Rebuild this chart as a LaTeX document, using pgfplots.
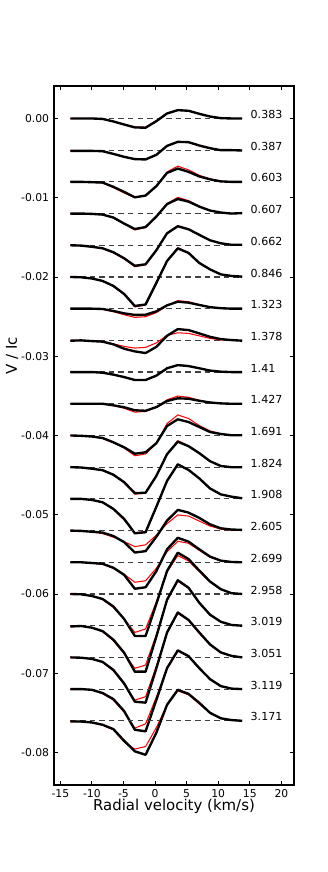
\documentclass[border=0pt]{standalone}
\usepackage{fontspec}
\setmainfont{DejaVu Sans}
\usepackage{pgfplots}
\usepackage{pgfplotstable}
\pgfplotsset{compat=1.18}

% one table per phase: velocity, observed (b) and model (r), offset included
\pgfplotstableread{
v b r
-13.4 0 0
-11.7 0 0
-10.0 0 0
-8.3 -0.00006 -0.00006
-6.6 -0.00038 -0.00038
-4.9 -0.00076 -0.00076
-3.2 -0.00113 -0.00107
-1.5 -0.00117 -0.00110
0.2 -0.00034 -0.00032
1.9 0.00063 0.00067
3.6 0.00105 0.00105
5.3 0.00097 0.00095
7.0 0.00059 0.00057
8.7 0.00025 0.00023
10.4 0.00004 0.00004
12.1 0 0
13.8 0 0
}\tA
\pgfplotstableread{
v b r
-13.4 -0.00409 -0.00406
-11.7 -0.00409 -0.00406
-10.0 -0.00409 -0.00406
-8.3 -0.00413 -0.00413
-6.6 -0.00447 -0.00447
-4.9 -0.00484 -0.00482
-3.2 -0.00513 -0.00510
-1.5 -0.00517 -0.00513
0.2 -0.00459 -0.00457
1.9 -0.00346 -0.00343
3.6 -0.00295 -0.00295
5.3 -0.00299 -0.00303
7.0 -0.00341 -0.00346
8.7 -0.00375 -0.00379
10.4 -0.00400 -0.00400
12.1 -0.00400 -0.00400
13.8 -0.00404 -0.00404
}\tB
\pgfplotstableread{
v b r
-13.4 -0.00800 -0.00800
-11.7 -0.00800 -0.00800
-10.0 -0.00804 -0.00804
-8.3 -0.00809 -0.00813
-6.6 -0.00863 -0.00872
-4.9 -0.00926 -0.00939
-3.2 -0.00995 -0.00999
-1.5 -0.00973 -0.00970
0.2 -0.00854 -0.00850
1.9 -0.00687 -0.00674
3.6 -0.00632 -0.00602
5.3 -0.00674 -0.00649
7.0 -0.00731 -0.00718
8.7 -0.00768 -0.00762
10.4 -0.00794 -0.00790
12.1 -0.00800 -0.00800
13.8 -0.00800 -0.00800
}\tC
\pgfplotstableread{
v b r
-13.4 -0.01200 -0.01200
-11.7 -0.01200 -0.01200
-10.0 -0.01204 -0.01204
-8.3 -0.01213 -0.01213
-6.6 -0.01250 -0.01254
-4.9 -0.01326 -0.01332
-3.2 -0.01395 -0.01406
-1.5 -0.01370 -0.01377
0.2 -0.01238 -0.01238
1.9 -0.01080 -0.01074
3.6 -0.01017 -0.00996
5.3 -0.01049 -0.01036
7.0 -0.01112 -0.01105
8.7 -0.01162 -0.01158
10.4 -0.01187 -0.01187
12.1 -0.01200 -0.01200
13.8 -0.01194 -0.01194
}\tD
\pgfplotstableread{
v b r
-13.4 -0.01600 -0.01600
-11.7 -0.01604 -0.01604
-10.0 -0.01619 -0.01619
-8.3 -0.01638 -0.01642
-6.6 -0.01688 -0.01695
-4.9 -0.01764 -0.01770
-3.2 -0.01859 -0.01871
-1.5 -0.01840 -0.01846
0.2 -0.01663 -0.01669
1.9 -0.01449 -0.01442
3.6 -0.01360 -0.01354
5.3 -0.01398 -0.01394
7.0 -0.01468 -0.01468
8.7 -0.01537 -0.01537
10.4 -0.01575 -0.01575
12.1 -0.01594 -0.01594
13.8 -0.01594 -0.01594
}\tE
\pgfplotstableread{
v b r
-13.4 -0.02000 -0.02000
-11.7 -0.02004 -0.02004
-10.0 -0.02019 -0.02019
-8.3 -0.02050 -0.02054
-6.6 -0.02113 -0.02120
-4.9 -0.02214 -0.02221
-3.2 -0.02366 -0.02378
-1.5 -0.02347 -0.02353
0.2 -0.02076 -0.02082
1.9 -0.01798 -0.01798
3.6 -0.01639 -0.01631
5.3 -0.01697 -0.01691
7.0 -0.01823 -0.01817
8.7 -0.01904 -0.01905
10.4 -0.01967 -0.01967
12.1 -0.01987 -0.01987
13.8 -0.01996 -0.01996
}\tF
\pgfplotstableread{
v b r
-13.4 -0.02400 -0.02400
-11.7 -0.02400 -0.02400
-10.0 -0.02400 -0.02400
-8.3 -0.02404 -0.02406
-6.6 -0.02429 -0.02438
-4.9 -0.02459 -0.02476
-3.2 -0.02479 -0.02510
-1.5 -0.02476 -0.02501
0.2 -0.02434 -0.02450
1.9 -0.02358 -0.02362
3.6 -0.02312 -0.02299
5.3 -0.02324 -0.02312
7.0 -0.02353 -0.02350
8.7 -0.02381 -0.02379
10.4 -0.02394 -0.02394
12.1 -0.02400 -0.02400
13.8 -0.02400 -0.02400
}\tG
\pgfplotstableread{
v b r
-13.4 -0.02804 -0.02804
-11.7 -0.02800 -0.02800
-10.0 -0.02809 -0.02806
-8.3 -0.02816 -0.02813
-6.6 -0.02850 -0.02844
-4.9 -0.02905 -0.02876
-3.2 -0.02939 -0.02897
-1.5 -0.02960 -0.02888
0.2 -0.02882 -0.02832
1.9 -0.02742 -0.02737
3.6 -0.02658 -0.02704
5.3 -0.02670 -0.02712
7.0 -0.02712 -0.02743
8.7 -0.02755 -0.02775
10.4 -0.02784 -0.02794
12.1 -0.02796 -0.02800
13.8 -0.02804 -0.02804
}\tH
\pgfplotstableread{
v b r
-13.4 -0.03200 -0.03200
-11.7 -0.03200 -0.03200
-10.0 -0.03200 -0.03200
-8.3 -0.03208 -0.03208
-6.6 -0.03232 -0.03232
-4.9 -0.03263 -0.03263
-3.2 -0.03300 -0.03297
-1.5 -0.03300 -0.03297
0.2 -0.03245 -0.03242
1.9 -0.03152 -0.03150
3.6 -0.03112 -0.03109
5.3 -0.03124 -0.03122
7.0 -0.03152 -0.03152
8.7 -0.03181 -0.03181
10.4 -0.03195 -0.03195
12.1 -0.03200 -0.03200
13.8 -0.03200 -0.03200
}\tI
\pgfplotstableread{
v b r
-13.4 -0.03600 -0.03600
-11.7 -0.03600 -0.03600
-10.0 -0.03600 -0.03600
-8.3 -0.03600 -0.03600
-6.6 -0.03619 -0.03623
-4.9 -0.03644 -0.03657
-3.2 -0.03682 -0.03705
-1.5 -0.03688 -0.03697
0.2 -0.03642 -0.03644
1.9 -0.03565 -0.03550
3.6 -0.03531 -0.03502
5.3 -0.03536 -0.03518
7.0 -0.03562 -0.03556
8.7 -0.03584 -0.03581
10.4 -0.03595 -0.03595
12.1 -0.03600 -0.03600
13.8 -0.03600 -0.03600
}\tJ
\pgfplotstableread{
v b r
-13.4 -0.04000 -0.04000
-11.7 -0.04004 -0.04004
-10.0 -0.04013 -0.04013
-8.3 -0.04032 -0.04038
-6.6 -0.04086 -0.04092
-4.9 -0.04149 -0.04158
-3.2 -0.04230 -0.04256
-1.5 -0.04212 -0.04233
0.2 -0.04098 -0.04101
1.9 -0.03880 -0.03849
3.6 -0.03796 -0.03741
5.3 -0.03830 -0.03786
7.0 -0.03893 -0.03874
8.7 -0.03956 -0.03943
10.4 -0.03981 -0.03977
12.1 -0.03997 -0.03997
13.8 -0.03997 -0.03997
}\tK
\pgfplotstableread{
v b r
-13.4 -0.04400 -0.04400
-11.7 -0.04404 -0.04404
-10.0 -0.04419 -0.04419
-8.3 -0.04438 -0.04442
-6.6 -0.04495 -0.04501
-4.9 -0.04589 -0.04595
-3.2 -0.04728 -0.04740
-1.5 -0.04722 -0.04728
0.2 -0.04511 -0.04513
1.9 -0.04236 -0.04230
3.6 -0.04078 -0.04066
5.3 -0.04135 -0.04129
7.0 -0.04223 -0.04217
8.7 -0.04324 -0.04324
10.4 -0.04385 -0.04381
12.1 -0.04400 -0.04400
13.8 -0.04400 -0.04400
}\tL
\pgfplotstableread{
v b r
-13.4 -0.04800 -0.04800
-11.7 -0.04800 -0.04800
-10.0 -0.04813 -0.04813
-8.3 -0.04843 -0.04847
-6.6 -0.04926 -0.04932
-4.9 -0.05052 -0.05065
-3.2 -0.05234 -0.05229
-1.5 -0.05221 -0.05210
0.2 -0.04901 -0.04901
1.9 -0.04573 -0.04567
3.6 -0.04365 -0.04359
5.3 -0.04434 -0.04434
7.0 -0.04541 -0.04548
8.7 -0.04668 -0.04668
10.4 -0.04743 -0.04743
12.1 -0.04772 -0.04775
13.8 -0.04792 -0.04792
}\tM
\pgfplotstableread{
v b r
-13.4 -0.05200 -0.05200
-11.7 -0.05204 -0.05204
-10.0 -0.05215 -0.05215
-8.3 -0.05225 -0.05238
-6.6 -0.05269 -0.05282
-4.9 -0.05345 -0.05339
-3.2 -0.05477 -0.05402
-1.5 -0.05459 -0.05380
0.2 -0.05279 -0.05257
1.9 -0.05074 -0.05112
3.6 -0.04939 -0.05002
5.3 -0.04973 -0.05017
7.0 -0.05040 -0.05080
8.7 -0.05121 -0.05143
10.4 -0.05171 -0.05181
12.1 -0.05187 -0.05196
13.8 -0.05191 -0.05196
}\tN
\pgfplotstableread{
v b r
-13.4 -0.05600 -0.05600
-11.7 -0.05600 -0.05600
-10.0 -0.05609 -0.05609
-8.3 -0.05619 -0.05625
-6.6 -0.05669 -0.05676
-4.9 -0.05758 -0.05751
-3.2 -0.05934 -0.05852
-1.5 -0.05915 -0.05833
0.2 -0.05713 -0.05676
1.9 -0.05436 -0.05468
3.6 -0.05291 -0.05335
5.3 -0.05339 -0.05360
7.0 -0.05436 -0.05449
8.7 -0.05528 -0.05537
10.4 -0.05579 -0.05581
12.1 -0.05596 -0.05596
13.8 -0.05600 -0.05600
}\tO
\pgfplotstableread{
v b r
-13.4 -0.06000 -0.06000
-11.7 -0.06004 -0.06004
-10.0 -0.06025 -0.06025
-8.3 -0.06063 -0.06069
-6.6 -0.06158 -0.06170
-4.9 -0.06315 -0.06315
-3.2 -0.06530 -0.06485
-1.5 -0.06530 -0.06441
0.2 -0.06126 -0.06101
1.9 -0.05710 -0.05723
3.6 -0.05479 -0.05515
5.3 -0.05559 -0.05584
7.0 -0.05704 -0.05716
8.7 -0.05842 -0.05849
10.4 -0.05939 -0.05943
12.1 -0.05990 -0.05990
13.8 -0.06000 -0.06000
}\tP
\pgfplotstableread{
v b r
-13.4 -0.06410 -0.06410
-11.7 -0.06404 -0.06404
-10.0 -0.06425 -0.06425
-8.3 -0.06469 -0.06476
-6.6 -0.06577 -0.06589
-4.9 -0.06740 -0.06753
-3.2 -0.06980 -0.06938
-1.5 -0.06980 -0.06896
0.2 -0.06539 -0.06513
1.9 -0.06072 -0.06085
3.6 -0.05826 -0.05839
5.3 -0.05921 -0.05927
7.0 -0.06110 -0.06116
8.7 -0.06261 -0.06261
10.4 -0.06350 -0.06350
12.1 -0.06391 -0.06391
13.8 -0.06400 -0.06400
}\tQ
\pgfplotstableread{
v b r
-13.4 -0.06800 -0.06800
-11.7 -0.06804 -0.06804
-10.0 -0.06819 -0.06819
-8.3 -0.06857 -0.06863
-6.6 -0.06958 -0.06970
-4.9 -0.07128 -0.07140
-3.2 -0.07359 -0.07338
-1.5 -0.07371 -0.07296
0.2 -0.06939 -0.06913
1.9 -0.06485 -0.06497
3.6 -0.06233 -0.06245
5.3 -0.06327 -0.06333
7.0 -0.06485 -0.06497
8.7 -0.06636 -0.06642
10.4 -0.06737 -0.06743
12.1 -0.06781 -0.06781
13.8 -0.06800 -0.06800
}\tR
\pgfplotstableread{
v b r
-13.4 -0.07200 -0.07200
-11.7 -0.07200 -0.07200
-10.0 -0.07209 -0.07209
-8.3 -0.07250 -0.07257
-6.6 -0.07326 -0.07339
-4.9 -0.07477 -0.07490
-3.2 -0.07713 -0.07692
-1.5 -0.07733 -0.07638
0.2 -0.07339 -0.07301
1.9 -0.06935 -0.06948
3.6 -0.06711 -0.06721
5.3 -0.06784 -0.06790
7.0 -0.06935 -0.06941
8.7 -0.07074 -0.07080
10.4 -0.07162 -0.07162
12.1 -0.07194 -0.07194
13.8 -0.07200 -0.07200
}\tS
\pgfplotstableread{
v b r
-13.4 -0.07609 -0.07609
-11.7 -0.07609 -0.07609
-10.0 -0.07621 -0.07621
-8.3 -0.07650 -0.07657
-6.6 -0.07705 -0.07713
-4.9 -0.07852 -0.07865
-3.2 -0.07985 -0.07957
-1.5 -0.08029 -0.07924
0.2 -0.07751 -0.07688
1.9 -0.07398 -0.07398
3.6 -0.07209 -0.07222
5.3 -0.07260 -0.07272
7.0 -0.07373 -0.07386
8.7 -0.07499 -0.07499
10.4 -0.07568 -0.07568
12.1 -0.07591 -0.07591
13.8 -0.07600 -0.07600
}\tT

% zero line, model, observation and phase label of one profile
\newcommand{\prof}[4]{%
  \addplot[black!75, line width=0.85bp, dash pattern=on 4bp off 2.9bp]
    coordinates {(-13.4,#2) (13.8,#2)};
  \addplot[red, line width=0.75bp] table[x=v, y=r] {#1};
  \addplot[black, line width=1.7bp, line join=round] table[x=v, y=b] {#1};
  \node[anchor=west, inner sep=0pt, font=\fontsize{8}{9}\selectfont]
    at (axis cs:15.1,#3) {#4};
}

\begin{document}
\begin{tikzpicture}
\path[use as bounding box] (-38.88bp,-62.64bp) rectangle (196.56bp,565.2bp);
\begin{axis}[
    at={(0,0)}, anchor=south west,
    scale only axis,
    width=172.8bp, height=503.3bp,
    xmin=-16, xmax=22,
    ymin=-0.0841, ymax=0.0041,
    xtick={-15,-10,...,20},
    ytick={0,-0.01,-0.02,-0.03,-0.04,-0.05,-0.06,-0.07,-0.08},
    scaled y ticks=false,
    yticklabel style={/pgf/number format/.cd, fixed, fixed zerofill, precision=2},
    /pgf/number format/assume math mode=true,
    tick label style={font=\fontsize{7.8}{9}\selectfont},
    tick align=inside,
    major tick length=3bp,
    axis line style={line width=0.8bp},
    every tick/.style={black, line width=0.6bp},
    xlabel={Radial velocity (km/s)},
    ylabel={V / Ic},
    label style={font=\fontsize{10.8}{12}\selectfont},
    xlabel style={at={(axis description cs:0.5,-0.031)}, anchor=center},
    ylabel style={at={(axis description cs:-0.175,0.614)}, anchor=center},
    clip=false,
]
\prof{\tA}{0}{0.0005}{0.383}
\prof{\tB}{-0.004}{-0.0035}{0.387}
\prof{\tC}{-0.008}{-0.0075}{0.603}
\prof{\tD}{-0.012}{-0.0115}{0.607}
\prof{\tE}{-0.016}{-0.0155}{0.662}
\prof{\tF}{-0.020}{-0.0195}{0.846}
\prof{\tG}{-0.024}{-0.0235}{1.323}
\prof{\tH}{-0.028}{-0.0275}{1.378}
\prof{\tI}{-0.032}{-0.0315}{1.41}
\prof{\tJ}{-0.036}{-0.0355}{1.427}
\prof{\tK}{-0.040}{-0.0395}{1.691}
\prof{\tL}{-0.044}{-0.0435}{1.824}
\prof{\tM}{-0.048}{-0.0475}{1.908}
\prof{\tN}{-0.052}{-0.0515}{2.605}
\prof{\tO}{-0.056}{-0.0555}{2.699}
\prof{\tP}{-0.060}{-0.0595}{2.958}
\prof{\tQ}{-0.064}{-0.0635}{3.019}
\prof{\tR}{-0.068}{-0.0675}{3.051}
\prof{\tS}{-0.072}{-0.0715}{3.119}
\prof{\tT}{-0.076}{-0.0755}{3.171}
\end{axis}
\end{tikzpicture}
\end{document}
